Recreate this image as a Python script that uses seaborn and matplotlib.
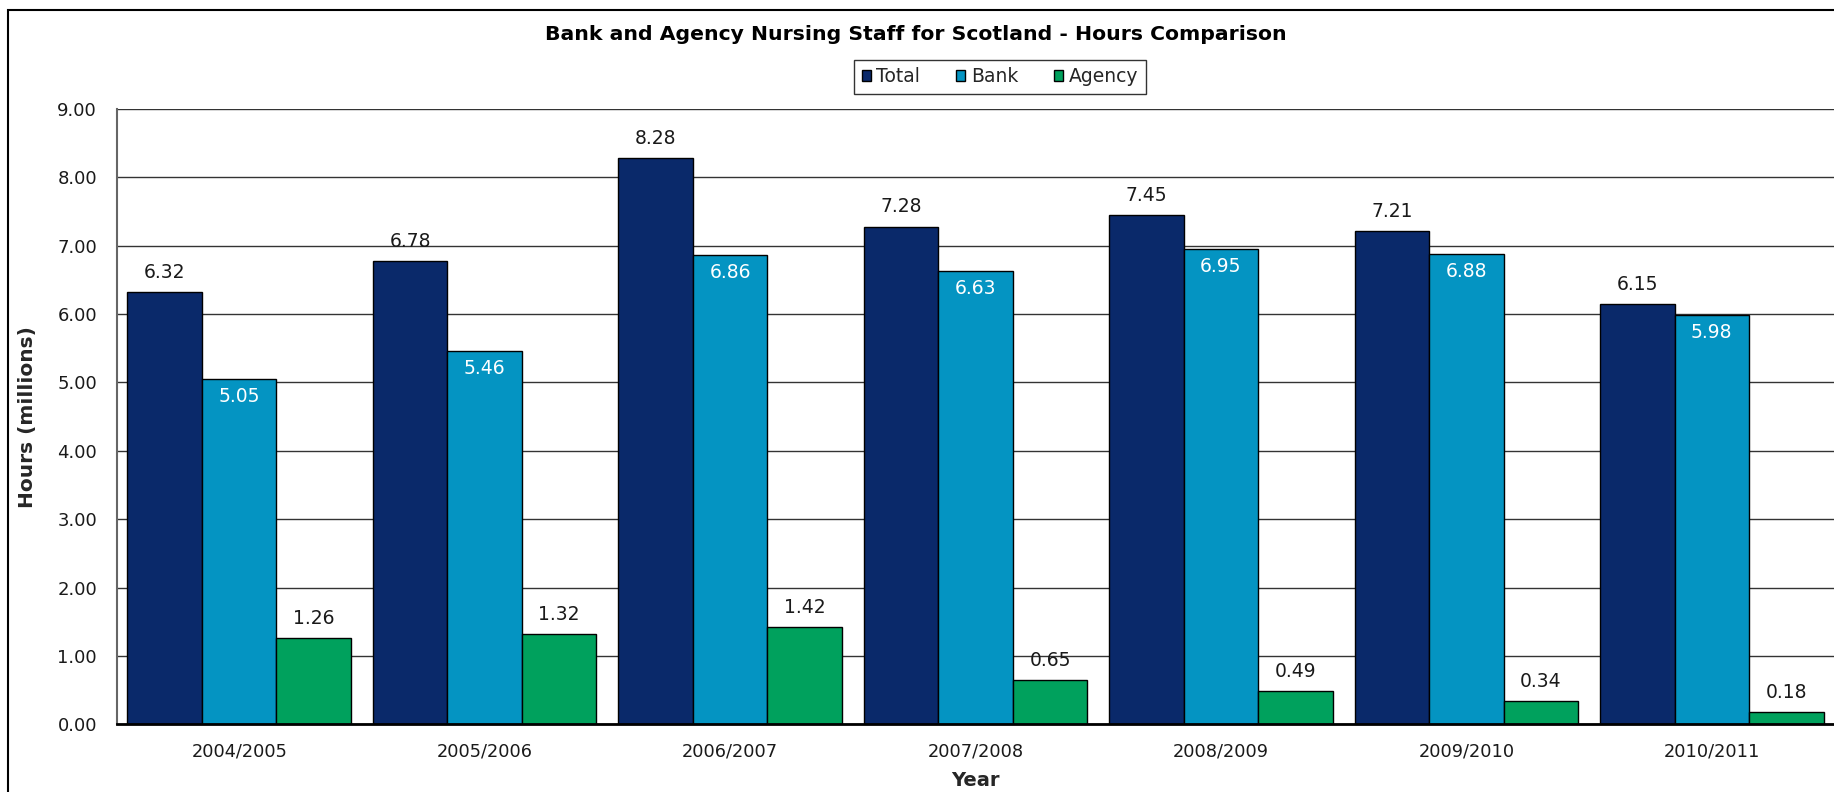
import matplotlib
matplotlib.use("Agg")
import matplotlib.pyplot as plt
from matplotlib.patches import Rectangle, Patch
import numpy as np
import pandas as pd
import seaborn as sns

# Financial years on the category axis
years = ["2004/2005", "2005/2006", "2006/2007", "2007/2008",
         "2008/2009", "2009/2010", "2010/2011"]

# Hours worked, in millions
total_hours = [6.32, 6.78, 8.28, 7.28, 7.45, 7.21, 6.15]
bank_hours = [5.05, 5.46, 6.86, 6.63, 6.95, 6.88, 5.98]
agency_hours = [1.26, 1.32, 1.42, 0.65, 0.49, 0.34, 0.18]

series_names = ["Total", "Bank", "Agency"]
series_colors = ["#0a296a", "#0494c2", "#00a15d"]
y_ticks = [0, 1, 2, 3, 4, 5, 6, 7, 8, 9]

title = "Bank and Agency Nursing Staff for Scotland - Hours Comparison"

df = pd.DataFrame({
    "Year": years * 3,
    "Hours": total_hours + bank_hours + agency_hours,
    "Series": [s for s in series_names for _ in years],
})

sns.set_theme(style="white")
plt.rcParams["font.family"] = ["DejaVu Sans"]

W, H = 1834, 792
fig = plt.figure(figsize=(W / 100, H / 100), dpi=100)
fig.patch.set_facecolor("white")

# plot area in pixel terms
left_px, right_px, top_px, bottom_px = 116.5, 1834.5, 109.0, 724.3
ax_w, ax_h = right_px - left_px, bottom_px - top_px
ax = fig.add_axes([left_px / W, 1 - bottom_px / H, ax_w / W, ax_h / H])

sns.barplot(data=df, x="Year", y="Hours", hue="Series",
            hue_order=series_names, palette=series_colors,
            width=0.911, saturation=1, edgecolor="black", linewidth=1.0,
            ax=ax, legend=False, zorder=3)

ax.set_xlim(-0.5, len(years) - 0.5)
ax.set_ylim(0, 9)
ax.set_yticks(y_ticks)
ax.set_yticklabels([f"{v:.2f}" for v in y_ticks], fontsize=13, color="#1a1a1a")
ax.tick_params(axis="y", which="major", direction="out", length=5, width=1,
               color="#555555", pad=9)
ax.tick_params(axis="x", which="major", length=0, labelsize=12.8, pad=13,
               labelcolor="#1a1a1a")
ax.set_xticks(np.arange(-0.5, len(years)), minor=True)
ax.tick_params(axis="x", which="minor", direction="out", length=6, width=1,
               color="#555555")

ax.yaxis.grid(True, color="#333333", linewidth=1.0, zorder=0)
ax.set_axisbelow(True)

for side in ["top", "right"]:
    ax.spines[side].set_visible(False)
ax.spines["left"].set_color("#666666")
ax.spines["left"].set_linewidth(1.5)
ax.spines["bottom"].set_color("black")
ax.spines["bottom"].set_linewidth(2.0)
ax.spines["bottom"].set_zorder(4)

ax.set_xlabel("Year", fontsize=14, fontweight="bold")
ax.set_ylabel("Hours (millions)", fontsize=14.5, fontweight="bold")
ax.xaxis.set_label_coords(0.5, (bottom_px - 781.0) / ax_h)
ax.yaxis.set_label_coords((28.0 - left_px) / ax_w, 0.5)
ax.xaxis.label.set_va("center")
ax.yaxis.label.set_va("center")

# value labels: above Total and Agency bars, inside the top of Bank bars
series_values = [total_hours, bank_hours, agency_hours]
for container, values, name in zip(ax.containers, series_values, series_names):
    for patch, val in zip(container.patches, values):
        cx = patch.get_x() + patch.get_width() / 2
        if name == "Bank":
            ax.annotate(f"{val:.2f}", (cx, val), xytext=(0, -12.6),
                        textcoords="offset points", ha="center", va="center",
                        fontsize=13.5, color="white", zorder=5)
        else:
            ax.annotate(f"{val:.2f}", (cx, val), xytext=(0, 14.2),
                        textcoords="offset points", ha="center", va="center",
                        fontsize=13.5, color="#1a1a1a", zorder=5)

# title
fig.text(0.4995, 1 - 34 / H, title, ha="center", va="center",
         fontsize=14.7, fontweight="bold", color="black")

# legend
handles = [Patch(facecolor=c, edgecolor="black", linewidth=1.0, label=n)
           for c, n in zip(series_colors, series_names)]
leg = fig.legend(handles=handles, loc="center", ncol=3,
                 bbox_to_anchor=(1000 / W, 1 - 76.5 / H),
                 fontsize=13.5, frameon=True, fancybox=False,
                 handlelength=0.5, handleheight=0.5, handletextpad=0.3,
                 columnspacing=1.9, borderpad=0.4, edgecolor="black")
leg.get_frame().set_linewidth(1.0)

# outer chart border
fig.patches.append(Rectangle((8 / W, -0.05), 1.2, 1 - 10 / H + 0.05,
                             transform=fig.transFigure, fill=False,
                             edgecolor="black", linewidth=1.5, zorder=10))

fig.savefig("out.png", dpi=100)
